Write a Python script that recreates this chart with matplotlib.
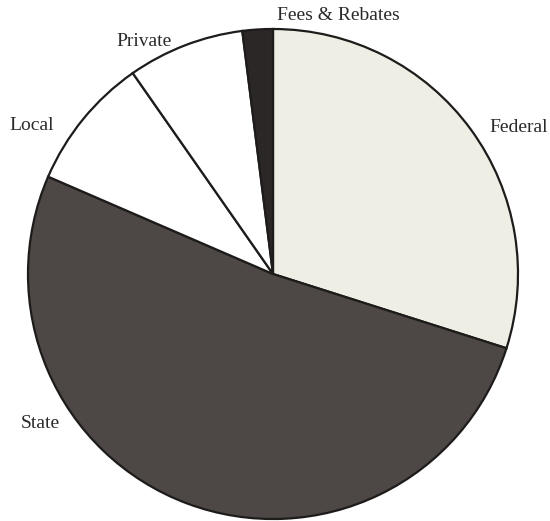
import matplotlib
matplotlib.use('Agg')
import matplotlib.pyplot as plt

# fatias (sentido horario a partir do topo)
categorias = ['Federal', 'State', 'Local', 'Private', 'Fees & Rebates']
valores = [29.9, 51.6, 8.8, 7.7, 2.0]
cores = ['#efeee4', '#4d4845', '#ffffff', '#ffffff', '#2b2726']

W, H = 550, 521
cx, cy, r = 273, 274, 245

fig = plt.figure(figsize=(W / 100, H / 100), dpi=100)
ax = fig.add_axes([(cx - r) / W, (H - cy - r) / H, 2 * r / W, 2 * r / H])
ax.pie(valores, colors=cores, startangle=90, counterclock=False, radius=1,
       wedgeprops={'edgecolor': '#1e1c1b', 'linewidth': 1.6})
ax.set_xlim(-1, 1)
ax.set_ylim(-1, 1)
ax.set_aspect('auto')
ax.axis('off')

# rotulos (posicoes em pixels)
pos_rotulos = {'Fees & Rebates': (338, 16), 'Private': (144, 41), 'Local': (32, 126),
               'Federal': (519, 128), 'State': (40, 424)}
for nome in categorias:
    x, y = pos_rotulos[nome]
    fig.text(x / W, 1 - y / H, nome, ha='center', va='center', fontsize=14,
             family='Liberation Serif', color='#2a2a2a')

plt.savefig('out.png', dpi=100)
